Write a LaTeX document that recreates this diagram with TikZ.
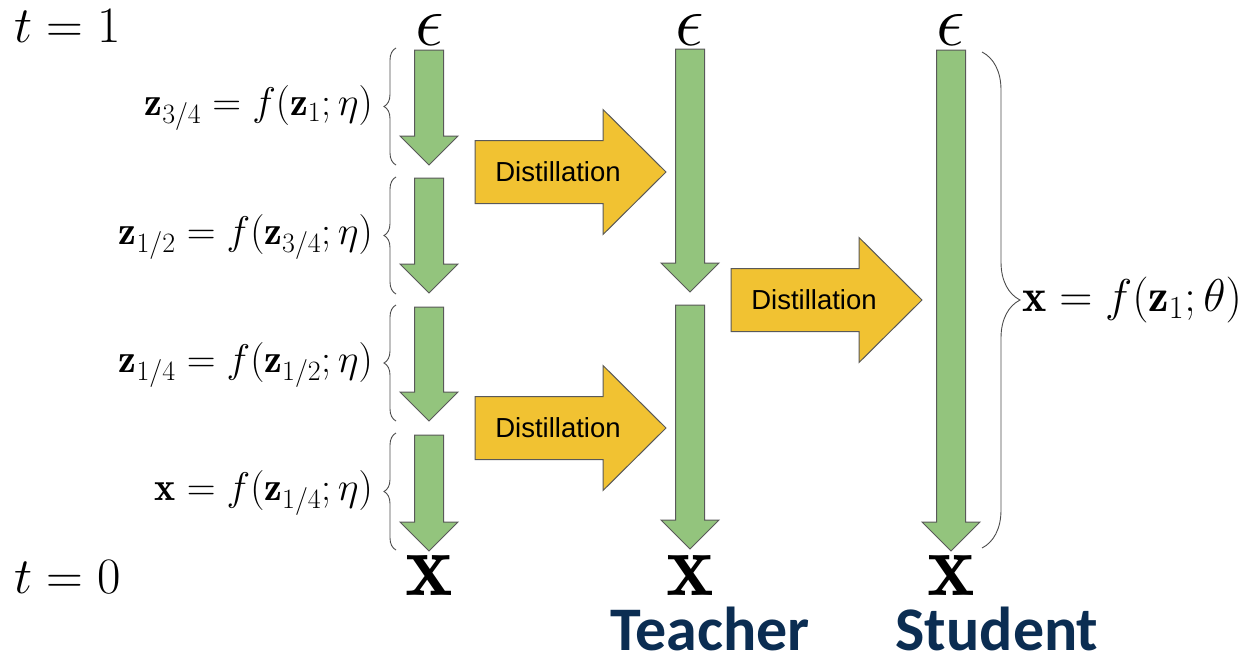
\RequirePackage{fix-cm}
\documentclass[tikz,border=0pt]{standalone}
\usepackage{amsmath}
\usepackage{fontspec}
\newfontfamily\arialfont{Liberation Sans}
\newfontfamily\calibrifont{Carlito}
\usetikzlibrary{decorations.pathreplacing}

\definecolor{stepgreen}{HTML}{93C47D}
\definecolor{distyellow}{HTML}{F1C232}
\definecolor{titlenavy}{HTML}{0B2D52}

\tikzset{
  greenbox/.style={fill=stepgreen, draw=black!65, line width=1pt},
  yellowbox/.style={fill=distyellow, draw=black!65, line width=1pt},
  disttext/.style={font=\arialfont\fontsize{27.5}{30}\selectfont, inner sep=0pt},
  mathlbl/.style={font=\fontsize{40}{42}\selectfont, inner sep=0pt},
  timelbl/.style={font=\fontsize{51}{53}\selectfont, inner sep=0pt, anchor=base west},
  endlbl/.style={font=\fontsize{72}{74}\selectfont, inner sep=0pt, anchor=base},
  xlbl/.style={font=\fontsize{90}{92}\selectfont, inner sep=0pt, anchor=base},
  rolelbl/.style={font=\calibrifont\bfseries\fontsize{62}{64}\selectfont, text=titlenavy, inner sep=0pt, anchor=base},
  bracedraw/.style={draw=black!70, line width=0.9pt, decorate},
}

% x, top, tip
\newcommand{\greendown}[3]{%
  \draw[greenbox] (#1-14.5,#2) -- (#1+14.5,#2) -- (#1+14.5,#3-29) -- (#1+29,#3-29)
    -- (#1,#3) -- (#1-29,#3-29) -- (#1-14.5,#3-29) -- cycle;}

% name, left x, middle y
\newcommand{\distarrow}[3]{%
  \draw[yellowbox] (#2,#3-31.5) -- (#2+128,#3-31.5) -- (#2+128,#3-62.5) -- (#2+191,#3)
    -- (#2+128,#3+62.5) -- (#2+128,#3+31.5) -- (#2,#3+31.5) -- cycle;
  \node[disttext] (#1) at (#2+83,#3) {Distillation};}

\begin{document}
\begin{tikzpicture}[x=1pt, y=-1pt]
    \useasboundingbox (0,0) rectangle (1243,654);

    % time labels
    \node[timelbl] (tone) at (14,42) {$t=1$};
    \node[timelbl] (tzero) at (14,593) {$t=0$};

    % four small steps
    \foreach \top/\tip in {50/165, 178/293, 307/421, 435/551}
        \greendown{429}{\top}{\tip};
    % teacher, two steps
    \greendown{690}{49}{292}
    \greendown{690}{305}{549}
    % student, one step
    \greendown{951}{50}{551}

    % distillation arrows
    \distarrow{distA}{475}{172}
    \distarrow{distB}{475}{428}
    \distarrow{distC}{731}{300}

    % start and end symbols
    \node[endlbl] (epsA) at (430,45) {$\epsilon$};
    \node[endlbl] (epsB) at (690,45) {$\epsilon$};
    \node[endlbl] (epsC) at (951,45) {$\epsilon$};
    \node[xlbl] (xA) at (429,595) {$\mathbf{x}$};
    \node[xlbl] (xB) at (690,595) {$\mathbf{x}$};
    \node[xlbl] (xC) at (951,595) {$\mathbf{x}$};

    % braces and step equations
    \foreach \lo/\hi in {165/48, 294/177, 421/305, 550/433}
        \draw[bracedraw, decoration={brace, amplitude=12}] (396,\lo) -- (396,\hi);
    \node[mathlbl, anchor=east] (stepA) at (373,108) {$\mathbf{z}_{3/4}=f(\mathbf{z}_1;\eta)$};
    \node[mathlbl, anchor=east] (stepB) at (373,237) {$\mathbf{z}_{1/2}=f(\mathbf{z}_{3/4};\eta)$};
    \node[mathlbl, anchor=east] (stepC) at (373,365) {$\mathbf{z}_{1/4}=f(\mathbf{z}_{1/2};\eta)$};
    \node[mathlbl, anchor=east] (stepD) at (373,493) {$\mathbf{x}=f(\mathbf{z}_{1/4};\eta)$};

    \draw[bracedraw, decoration={brace, amplitude=38}] (982,52) -- (982,548);
    \node[mathlbl, anchor=west, font=\fontsize{46}{48}\selectfont] (oneshot) at (1022,300) {$\mathbf{x}=f(\mathbf{z}_1;\theta)$};

    % roles
    \node[rolelbl] (teacher) at (710,650) {Teacher};
    \node[rolelbl] (student) at (997,650) {Student};
\end{tikzpicture}
\end{document}
